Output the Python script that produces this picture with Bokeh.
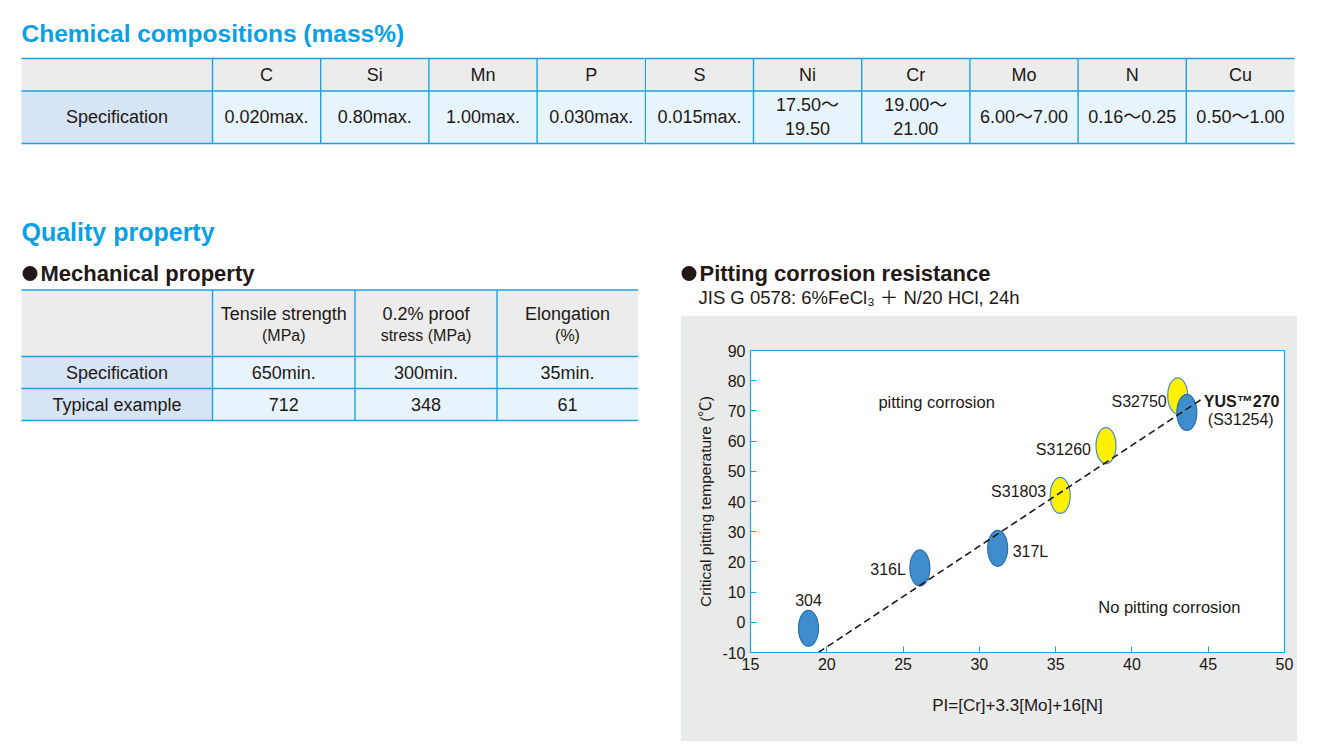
from bokeh.plotting import figure
from bokeh.layouts import column, row
from bokeh.models import Range1d, FixedTicker, Label, ColumnDataSource, Spacer
from bokeh.core.properties import value
from bokeh.embed import file_html
from bokeh.resources import INLINE

# ---------------- data ----------------
chem_elements = ["C", "Si", "Mn", "P", "S", "Ni", "Cr", "Mo", "N", "Cu"]
chem_spec = ["0.020max.", "0.80max.", "1.00max.", "0.030max.", "0.015max.",
             "17.50〜\n19.50", "19.00〜\n21.00", "6.00〜7.00", "0.16〜0.25", "0.50〜1.00"]
chem_row_label = "Specification"

mech_head_1 = ["Tensile strength", "0.2% proof", "Elongation"]
mech_head_2 = ["(MPa)", "stress (MPa)", "(%)"]
mech_row_labels = ["Specification", "Typical example"]
mech_spec = ["650min.", "300min.", "35min."]
mech_typical = ["712", "348", "61"]

grades = ["304", "316L", "317L", "S31803", "S31260", "S32750", "YUS™270"]
grade_alias = "(S31254)"
pi_values = [18.8, 26.1, 31.2, 35.3, 38.3, 43.0, 43.6]
cpt_values = [-2.0, 18.0, 24.5, 42.0, 58.5, 75.0, 69.5]
grade_type = ["austenitic", "austenitic", "austenitic", "duplex", "duplex", "duplex", "austenitic"]
trend_pi = [19.45, 44.7]
trend_cpt = [-10.0, 74.3]
x_ticks = [15, 20, 25, 30, 35, 40, 45, 50]
y_ticks = [-10, 0, 10, 20, 30, 40, 50, 60, 70, 80, 90]

# ---------------- styles ----------------
TXT = "#231815"
LINE_BLUE = "#1fa2e4"
TITLE_BLUE = "#0ba0e5"
HEAD_GRAY = "#ebeceb"
ROWHEAD_BLUE = "#d5e5f5"
CELL_BLUE = "#e8f4fc"
PANEL_GRAY = "#e9eaea"
FONT = "'Liberation Sans', 'Noto Sans CJK JP', sans-serif"
FILL = {"austenitic": "#3f8dcc", "duplex": "#fff100"}
EDGE = {"austenitic": "#2b6fae", "duplex": "#4a8ccb"}

SPLIT_X = 644  # page x where the left and right canvases meet (a chem-table column line)


def canvas(x0, y0, w, h):
    p = figure(width=w, height=h, x_range=Range1d(x0, x0 + w), y_range=Range1d(y0 + h, y0),
               x_axis_type=None, y_axis_type=None, output_backend="svg",
               toolbar_location=None, min_border=0, outline_line_color=None,
               border_fill_color="white", background_fill_color="white")
    p.min_border_left = p.min_border_right = p.min_border_top = p.min_border_bottom = 0
    return p


def txt(p, xs, ys, texts, size, align="center", bold=False, color=TXT):
    p.text(x=xs, y=ys, text=texts, text_align=align, text_baseline="middle",
           text_font=value(FONT), text_font_size=size,
           text_font_style="bold" if bold else "normal", text_color=color)


def table(p, col_edges, row_edges, header_rows=1):
    l, r = col_edges[0], col_edges[-1]
    p.quad(left=[l], right=[r], top=[row_edges[0]], bottom=[row_edges[header_rows]],
           fill_color=HEAD_GRAY, line_color=None)
    for i in range(header_rows, len(row_edges) - 1):
        p.quad(left=[col_edges[0]], right=[col_edges[1]], top=[row_edges[i]], bottom=[row_edges[i + 1]],
               fill_color=ROWHEAD_BLUE, line_color=None)
        p.quad(left=[col_edges[1]], right=[r], top=[row_edges[i]], bottom=[row_edges[i + 1]],
               fill_color=CELL_BLUE, line_color=None)
    p.segment(x0=[l] * len(row_edges), x1=[r] * len(row_edges), y0=row_edges, y1=row_edges,
              line_color=LINE_BLUE, line_width=1.4)
    inner = col_edges[1:-1]
    p.segment(x0=inner, x1=inner, y0=[row_edges[0]] * len(inner), y1=[row_edges[-1]] * len(inner),
              line_color=LINE_BLUE, line_width=1.4)


def centers(edges):
    return [(a + b) / 2 for a, b in zip(edges[:-1], edges[1:])]


def bullet(p, x, y):
    p.scatter(x=[x], y=[y], size=15, marker="circle", fill_color=TXT, line_color=None)


# ---------------- chemical table (split across the two canvases on a column line) ----------------
chem_cols = [21, 212] + [212 + (1294 - 212) * (i + 1) / len(chem_elements) for i in range(len(chem_elements))]
chem_rows = [58, 90.5, 143]


def draw_chem(p, keep):
    table(p, chem_cols, chem_rows)
    cc = centers(chem_cols)
    rc = centers(chem_rows)
    idx = [i for i in range(len(chem_elements)) if keep(cc[i + 1])]
    txt(p, [cc[i + 1] for i in idx], [rc[0]] * len(idx), [chem_elements[i] for i in idx], "18px")
    txt(p, [cc[i + 1] for i in idx], [rc[1]] * len(idx), [chem_spec[i] for i in idx], "18px")
    if keep(cc[0]):
        txt(p, [cc[0]], [rc[1]], [chem_row_label], "18px")


# ---------------- left canvas ----------------
left = canvas(0, 0, SPLIT_X, 741)
txt(left, [21], [33], ["Chemical compositions (mass%)"], "24.5px", align="left", bold=True, color=TITLE_BLUE)
draw_chem(left, lambda x: x < SPLIT_X)
txt(left, [21], [231], ["Quality property"], "25px", align="left", bold=True, color=TITLE_BLUE)
bullet(left, 29.5, 273)
txt(left, [40], [273], ["Mechanical property"], "22px", align="left", bold=True)

mech_cols = [21, 212, 354.5, 496.5, 637.5]
mech_rows = [289.5, 356, 388, 420]
table(left, mech_cols, mech_rows)
mc = centers(mech_cols)
mr = centers(mech_rows)
txt(left, mc[1:], [313] * 3, mech_head_1, "18px")
txt(left, mc[1:], [335] * 3, mech_head_2, "16px")
txt(left, [mc[0]] * 2, mr[1:], mech_row_labels, "18px")
txt(left, mc[1:], [mr[1]] * 3, mech_spec, "18px")
txt(left, mc[1:], [mr[2]] * 3, mech_typical, "18px")

# ---------------- right header canvas ----------------
rtop = canvas(SPLIT_X, 0, 1309 - SPLIT_X, 315)
draw_chem(rtop, lambda x: x > SPLIT_X)
bullet(rtop, 688.5, 273)
txt(rtop, [699], [273], ["Pitting corrosion resistance"], "22px", align="left", bold=True)
txt(rtop, [698], [297], ["JIS G 0578: 6%FeCl₃ ＋ N/20 HCl, 24h"], "18.5px", align="left")

# ---------------- chart ----------------
chart = figure(width=617, height=426, x_range=Range1d(15, 50), y_range=Range1d(-10, 90),
               output_backend="svg", toolbar_location=None,
               min_border_left=70, min_border_right=13, min_border_top=35, min_border_bottom=89,
               border_fill_color=PANEL_GRAY, background_fill_color="white",
               outline_line_color=LINE_BLUE, outline_line_width=1.2,
               x_axis_label="PI=[Cr]+3.3[Mo]+16[N]",
               y_axis_label="Critical pitting temperature (℃)")
chart.grid.visible = False
chart.xaxis.ticker = FixedTicker(ticks=x_ticks)
chart.yaxis.ticker = FixedTicker(ticks=y_ticks)
chart.yaxis.major_label_overrides = {-10: "-10"}
for ax in (chart.xaxis[0], chart.yaxis[0]):
    ax.axis_line_color = LINE_BLUE
    ax.major_tick_line_color = LINE_BLUE
    ax.major_tick_in = 6
    ax.major_tick_out = 0
    ax.minor_tick_line_color = None
    ax.major_label_text_font = FONT
    ax.major_label_text_font_size = "16px"
    ax.major_label_text_color = TXT
    ax.major_label_standoff = 5
    ax.axis_label_text_font = FONT
    ax.axis_label_text_font_style = "normal"
    ax.axis_label_text_color = TXT
chart.xaxis.axis_label_text_font_size = "17px"
chart.yaxis.axis_label_text_font_size = "15.5px"
chart.xaxis.axis_label_standoff = 23
chart.yaxis.axis_label_standoff = 5

src = ColumnDataSource(dict(
    x=pi_values, y=cpt_values, label=grades,
    fill=[FILL[t] for t in grade_type], edge=[EDGE[t] for t in grade_type],
    dx=[0, -14, 15, -14, -15, -11, 17],
    dy=[-28, 2, 3, -4, 4, 6, -11],
    align=["center", "right", "left", "right", "right", "right", "left"],
    style=["normal"] * 6 + ["bold"],
))
chart.ellipse(x="x", y="y", width=20, height=36, width_units="screen", height_units="screen",
              fill_color="fill", line_color="edge", line_width=1.2, source=src)
chart.line(trend_pi, trend_cpt, line_color=TXT, line_width=1.6, line_dash="7 4")
chart.text(x="x", y="y", text="label", x_offset="dx", y_offset="dy", text_align="align",
           text_baseline="middle", text_font=value(FONT), text_font_size="16px",
           text_font_style="style", text_color=TXT, source=src)
chart.text(x=[pi_values[-1]], y=[cpt_values[-1]], text=[grade_alias], x_offset=21, y_offset=7,
           text_align="left", text_baseline="middle", text_font=value(FONT),
           text_font_size="16px", text_color=TXT)
chart.add_layout(Label(x=27.2, y=73.1, text="pitting corrosion", text_align="center",
                       text_baseline="middle", text_font=FONT, text_font_size="16.5px", text_color=TXT))
chart.add_layout(Label(x=42.45, y=5.2, text="No pitting corrosion", text_align="center",
                       text_baseline="middle", text_font=FONT, text_font_size="16.5px", text_color=TXT))

layout = row(left, column(rtop, row(Spacer(width=680 - SPLIT_X, height=426), chart)))
open("out.html", "w").write(file_html(layout, INLINE))
